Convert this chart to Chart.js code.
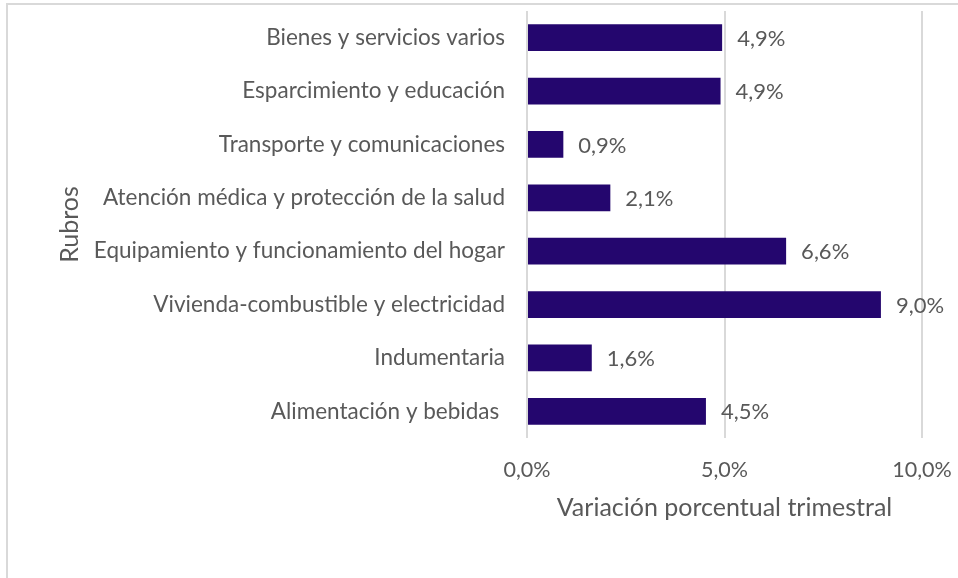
<!DOCTYPE html>
<html>
<head>
<meta charset="utf-8">
<script src="https://cdn.jsdelivr.net/npm/chart.js@4.4.1/dist/chart.umd.min.js"></script>
<style>
  html, body { margin: 0; padding: 0; background: #fff; }
  #frame { position: absolute; left: 6px; top: 3px; width: 960px; height: 580px;
           border-left: 2px solid #d9d9d9; border-top: 2px solid #d9d9d9; }
  #wrap { position: absolute; left: 0; top: 0; width: 958px; height: 578px; }
</style>
</head>
<body>
<div id="frame"></div>
<div id="wrap"><canvas id="rubros"></canvas></div>
<script>
  const rubros = [
    'Bienes y servicios varios',
    'Esparcimiento y educación',
    'Transporte y comunicaciones',
    'Atención médica y protección de la salud',
    'Equipamiento y funcionamiento del hogar',
    'Vivienda-combustible y electricidad',
    'Indumentaria',
    'Alimentación y bebidas '
  ];

  // variación % trimestral
  const variacion = [4.94, 4.90, 0.92, 2.11, 6.56, 8.96, 1.64, 4.53];

  const ticksX = [0, 5, 10];

  const fontFam = 'Lato, "Open Sans", sans-serif';
  const gris = '#595959';

  const fmt = v => v.toFixed(1).replace('.', ',') + '%';

  // etiquetas de valor al final de cada barra
  const etiquetas = {
    id: 'etiquetas',
    afterDatasetsDraw(chart) {
      const ctx = chart.ctx;
      const meta = chart.getDatasetMeta(0);
      ctx.save();
      ctx.font = '22px ' + fontFam;
      ctx.fillStyle = gris;
      ctx.textAlign = 'left';
      ctx.textBaseline = 'middle';
      meta.data.forEach((bar, i) => {
        ctx.fillText(fmt(variacion[i]), bar.x + 15, bar.y + 1);
      });
      ctx.restore();
    }
  };

  const dataRubros = {
    labels: rubros,
    datasets: [{
      label: 'Variación porcentual trimestral',
      backgroundColor: '#24066e',
      borderWidth: 0,
      data: variacion,
      categoryPercentage: 1,
      barPercentage: 0.5
    }]
  };

  const configRubros = {
    type: 'bar',
    data: dataRubros,
    options: {
      indexAxis: 'y',
      responsive: true,
      maintainAspectRatio: false,
      animation: false,
      layout: { padding: { top: 11, right: 36, bottom: 40, left: 0 } },
      plugins: {
        legend: { display: false },
        tooltip: { enabled: false }
      },
      scales: {
        x: {
          min: 0,
          max: 10,
          afterBuildTicks: axis => { axis.ticks = ticksX.map(v => ({ value: v })); },
          afterFit: axis => {
            axis.height = 100;
            axis.paddingLeft = 0;
            axis.paddingRight = 0;
          },
          grid: { color: '#d9d9d9', lineWidth: 2, drawTicks: false },
          border: { display: false },
          ticks: {
            padding: 19,
            color: gris,
            font: { family: fontFam, size: 21.5 },
            callback: v => fmt(v)
          },
          title: {
            display: true,
            text: 'Variación porcentual trimestral',
            color: gris,
            font: { family: fontFam, size: 25 },
            padding: { top: 0, bottom: 15 }
          }
        },
        y: {
          afterFit: axis => {
            axis.width = 527;
            axis.paddingTop = 0;
            axis.paddingBottom = 0;
          },
          grid: { display: false, drawTicks: false },
          border: { display: false },
          ticks: {
            padding: 22,
            color: gris,
            font: { family: fontFam, size: 22.5 }
          },
          title: {
            display: true,
            text: 'Rubros',
            color: gris,
            font: { family: fontFam, size: 25 },
            padding: { top: 55, bottom: 0 }
          }
        }
      }
    },
    plugins: [etiquetas]
  };

  const grafico = new Chart(
    document.getElementById('rubros'),
    configRubros
  );
</script>
</body>
</html>
